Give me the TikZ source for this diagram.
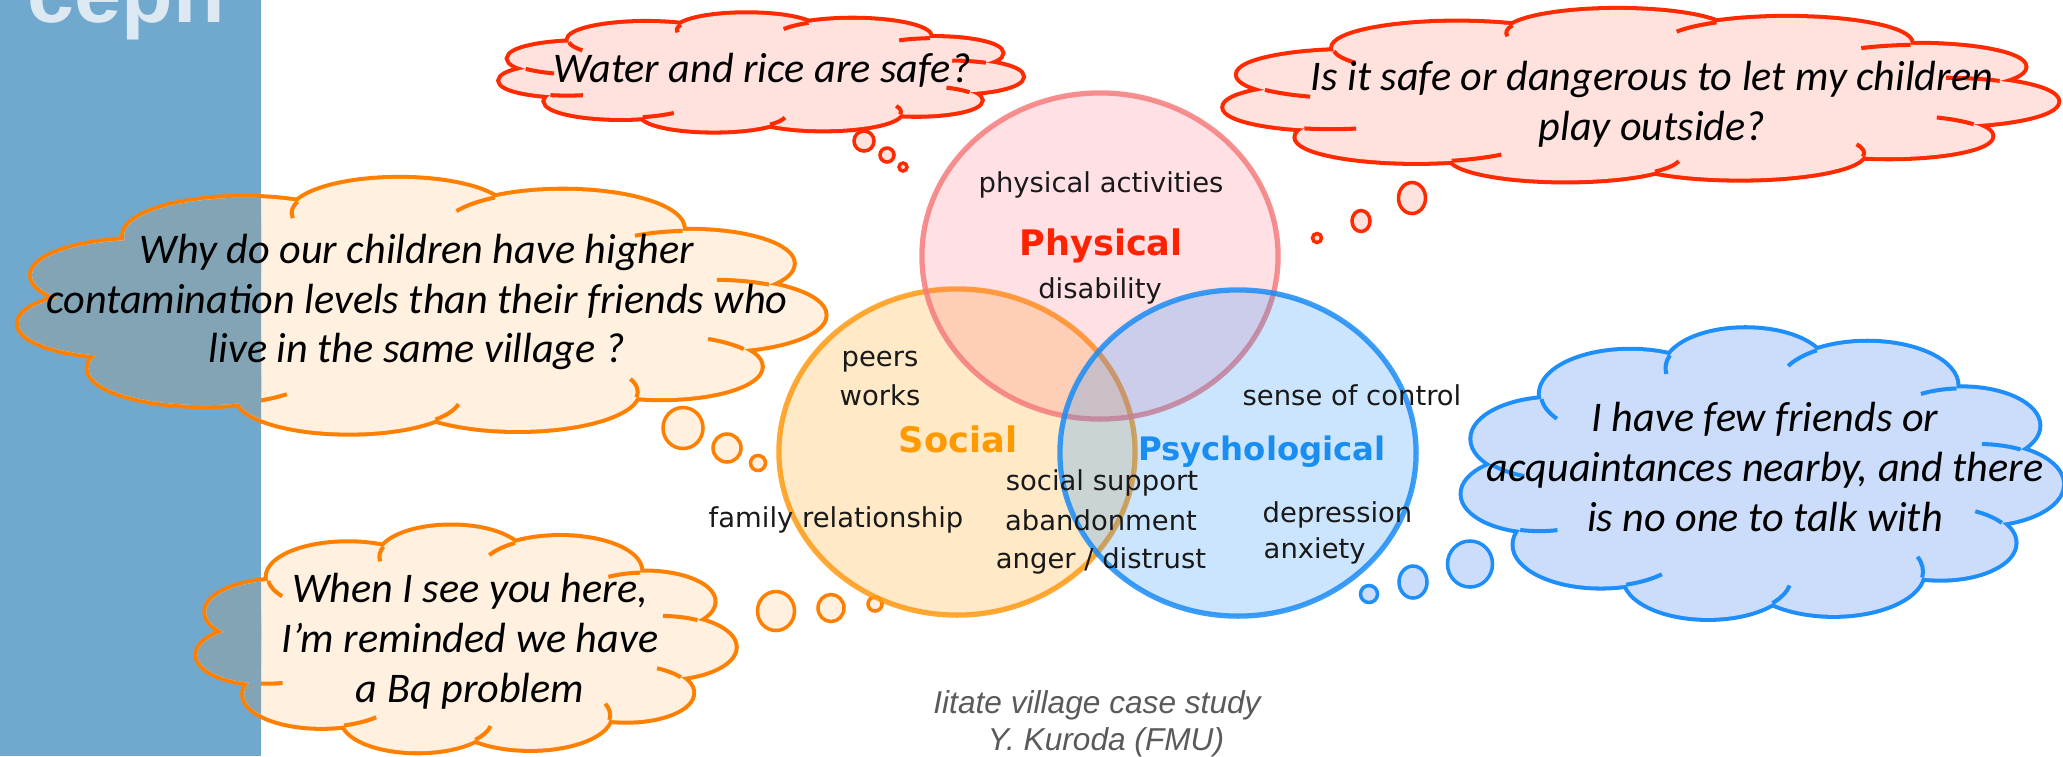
\documentclass[tikz,border=0pt]{standalone}
\usepackage{fontspec}
\usepackage{xcolor}
\usetikzlibrary{shapes.geometric}
\newfontfamily\cloudfont{Carlito}
\newfontfamily\vennfont{DejaVu Sans}
\newfontfamily\notefont{Liberation Sans}

\definecolor{barblue}{HTML}{71A9CE}
\definecolor{logotxt}{HTML}{DCE8F2}
\definecolor{wred}{HTML}{FF2A00}
\definecolor{wredfill}{HTML}{FFE2DE}
\definecolor{worange}{HTML}{FF8000}
\definecolor{worfill}{HTML}{FFF0E0}
\definecolor{worshade}{HTML}{82A4B5}
\definecolor{wblue}{HTML}{1E8EFA}
\definecolor{wbluefill}{HTML}{CCDDFB}
\definecolor{physline}{HTML}{F47C7C}
\definecolor{physfill}{HTML}{FF6478}
\definecolor{socline}{HTML}{FF9A12}
\definecolor{socfill}{HTML}{FF9900}
\definecolor{psyline}{HTML}{1A8CF5}
\definecolor{psyfill}{HTML}{1E90FF}
\definecolor{physhead}{HTML}{FF2200}
\definecolor{sochead}{HTML}{FF9900}
\definecolor{psyhead}{HTML}{1A8EF0}
\definecolor{capgray}{HTML}{5A5A5A}

% puff angle / radius of one cloud, in a unit box
\newcommand\puffs{5/.27, 38/.24, 70/.29, 104/.27, 138/.28, 170/.25, 200/.27, 232/.29, 266/.26, 300/.29, 333/.25}

\tikzset{
  pics/puffcloud/.style 2 args={code={
    \foreach \a/\r in \puffs \draw[#1, line width=2.3pt] (\a:{0.98-\r}) circle [radius=\r];
    \foreach \a/\r in \puffs \fill[#2] (\a:{0.98-\r}) circle [radius=\r];
    \fill[#2] (0,0) circle [radius=.78];
    % short inner arcs where two puffs meet
    \foreach \a/\r [remember=\a as \pa (initially 333), remember=\r as \pr (initially .25)] in \puffs {
      \pgfmathsetmacro\cix{(0.98-\r)*cos(\a)}
      \pgfmathsetmacro\ciy{(0.98-\r)*sin(\a)}
      \pgfmathsetmacro\cdx{(0.98-\pr)*cos(\pa)-\cix}
      \pgfmathsetmacro\cdy{(0.98-\pr)*sin(\pa)-\ciy}
      \pgfmathsetmacro\cdd{sqrt(\cdx*\cdx+\cdy*\cdy)}
      \pgfmathsetmacro\cl{(\r*\r-\pr*\pr+\cdd*\cdd)/(2*\cdd)}
      \pgfmathsetmacro\cphi{atan2(\cdy,\cdx)+acos(\cl/\r)}
      \draw[#1, line width=1.15pt] ({\cix+\r*cos(\cphi)},{\ciy+\r*sin(\cphi)})
        arc [start angle=\cphi, end angle=\cphi-28, radius=\r];
    }
  }},
  pics/puffshade/.style={code={
    \foreach \a/\r in \puffs \fill[#1] (\a:{0.98-\r}) circle [radius=\r];
    \fill[#1] (0,0) circle [radius=.78];
  }},
  bub/.style={ellipse, line width=1pt, inner sep=0pt},
  redbub/.style={bub, draw=wred, fill=wredfill},
  orbub/.style={bub, draw=worange, fill=worfill},
  bluebub/.style={bub, draw=wblue, fill=wbluefill},
  say/.style={font=\cloudfont\itshape\fontsize{12}{14.2}\selectfont, align=center, inner sep=0pt},
  venn/.style={ellipse, minimum width=35.6mm, minimum height=32.6mm, inner sep=0pt,
    line width=1.5pt, draw opacity=.85},
  lab/.style={font=\vennfont\fontsize{7.8}{9}\selectfont, inner sep=0pt, anchor=base, text=black!90},
  head/.style={font=\vennfont\bfseries\fontsize{10}{12}\selectfont, inner sep=0pt, anchor=base},
  capt/.style={font=\notefont\itshape\fontsize{9}{10.5}\selectfont, text=capgray, inner sep=0pt, anchor=base},
  logo/.style={font=\notefont\bfseries\fontsize{24}{24}\selectfont, text=logotxt, inner sep=0pt, anchor=base west}
}

\begin{document}
\begin{tikzpicture}[x=0.01cm, y=-0.01cm]
  \useasboundingbox (0,0) rectangle (2063,756);
  \fill[barblue] (0,0) rectangle (261,756);
  \node[logo] (logo) at (27,22) {cepn};

  % thought clouds
  \pic[xscale=268, yscale=60] at (760,73) {puffcloud={wred}{wredfill}};
  \pic[xscale=428, yscale=88] at (1639,96) {puffcloud={wred}{wredfill}};
  \pic[xscale=414, yscale=131] at (420,307) {puffcloud={worange}{worfill}};
  \pic[xscale=276, yscale=116] at (465,640) {puffcloud={worange}{worfill}};
  \pic[xscale=308, yscale=149] at (1761,475) {puffcloud={wblue}{wbluefill}};
  \begin{scope}
    \clip (0,0) rectangle (261,756);
    \pic[xscale=414, yscale=131] at (420,307) {puffshade=worshade};
    \pic[xscale=276, yscale=116] at (465,640) {puffshade=worshade};
  \end{scope}

  \foreach \n/\x/\y/\w/\h in {w1/864/141/2.0/2.0, w2/887/155/1.4/1.4, w3/903/167/0.8/0.8,
      p1/1412/198/2.7/3.1, p2/1361/221/1.8/2.1, p3/1317/238/0.9/0.9}
    \node[redbub, minimum width=\w mm, minimum height=\h mm] (\n) at (\x,\y) {};
  \foreach \n/\x/\y/\w/\h in {c1/683/428/4.0/4.1, c2/727/448/2.8/2.8, c3/758/463/1.5/1.5,
      b1/776/611/3.7/3.9, b2/831/608/2.6/2.7, b3/875/604/1.4/1.4}
    \node[orbub, minimum width=\w mm, minimum height=\h mm] (\n) at (\x,\y) {};
  \foreach \n/\x/\y/\w/\h in {t1/1470/564/4.5/4.6, t2/1413/582/2.8/3.2, t3/1369/594/1.7/1.7}
    \node[bluebub, minimum width=\w mm, minimum height=\h mm] (\n) at (\x,\y) {};

  \node[say, anchor=base] (sw) at (762,82) {Water and rice are safe?};
  \node[say] (sp) at (1652,104) {Is it safe or dangerous to let my children\\play outside?};
  \node[say] (sc) at (417,302) {Why do our children have higher\\contamination levels than their friends who\\live in the same village ?};
  \node[say] (sb) at (470,641) {When I see you here,\\I’m reminded we have\\a Bq problem};
  \node[say] (st) at (1765,467) {I have few friends or\\acquaintances nearby, and there\\is no one to talk with};

  % three domains
  \node[venn, draw=socline, fill=socfill, fill opacity=.22] (soc) at (957,452) {};
  \node[venn, draw=physline, fill=physfill, fill opacity=.2] (phys) at (1100,256) {};
  \node[venn, draw=psyline, fill=psyfill, fill opacity=.23] (psy) at (1238,453) {};

  \node[lab] (pa) at (1101,192) {physical activities};
  \node[head, text=physhead] (ph) at (1101,255) {Physical};
  \node[lab] (pd) at (1100,298) {disability};
  \node[lab] (sp1) at (880,366) {peers};
  \node[lab] (sw1) at (880,405) {works};
  \node[head, text=sochead] (sh) at (958,452) {Social};
  \node[lab] (sf) at (836,527) {family relationship};
  \node[lab] (ss) at (1102,490) {social support};
  \node[lab] (sa) at (1101,530) {abandonment};
  \node[lab] (sd) at (1101,568) {anger / distrust};
  \node[head, text=psyhead, font=\vennfont\bfseries\fontsize{9.2}{11}\selectfont] (yh) at (1262,460) {Psychological};
  \node[lab] (yc) at (1352,405) {sense of control};
  \node[lab, anchor=base west] (yd) at (1262,522) {depression};
  \node[lab, anchor=base west] (ya) at (1263,558) {anxiety};

  \node[capt] (cap1) at (1097,713) {Iitate village case study};
  \node[capt] (cap2) at (1106,750) {Y. Kuroda (FMU)};
\end{tikzpicture}
\end{document}
